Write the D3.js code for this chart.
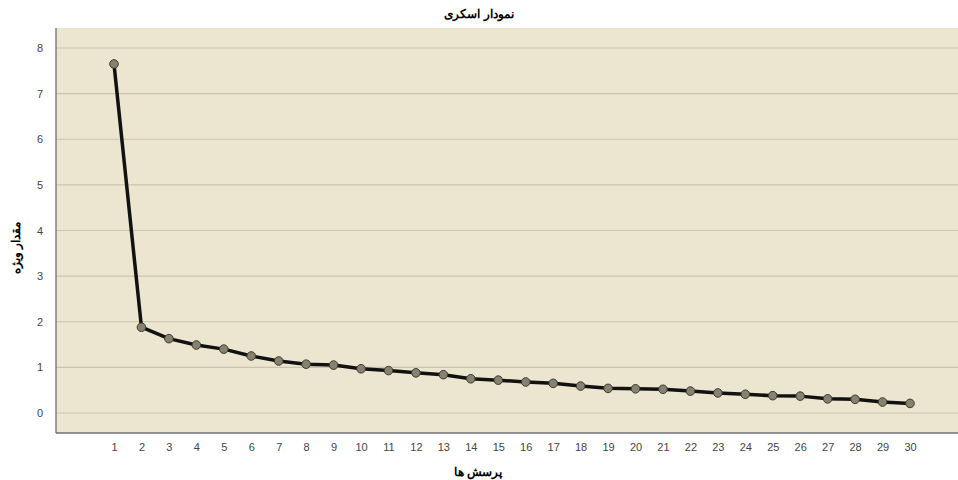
<!DOCTYPE html>
<html><head><meta charset="utf-8">
<script src="https://cdn.jsdelivr.net/npm/d3@7"></script>
<style>body{margin:0;background:#fff}svg{display:block}</style>
</head><body>
<svg id="c" width="958" height="480"></svg>
<script>
const components = d3.range(1, 31);
const eigenvalues = [7.65, 1.88, 1.63, 1.49, 1.40, 1.25, 1.14, 1.07, 1.05, 0.97,
  0.93, 0.88, 0.84, 0.75, 0.72, 0.68, 0.65, 0.59, 0.54, 0.53,
  0.52, 0.48, 0.44, 0.41, 0.38, 0.37, 0.31, 0.30, 0.24, 0.21];
const yTicks = [0, 1, 2, 3, 4, 5, 6, 7, 8];
const title = "نمودار اسکری";
const xTitle = "پرسش ها";
const yTitle = "مقدار ویژه";

const svg = d3.select("#c");
const L = 56, T = 28, R = 958, B = 433;
const x = d3.scaleLinear().domain([1, 30]).range([114, 910]);
const y = d3.scaleLinear().domain([0, 8]).range([413, 48]);

svg.append("rect").attr("x", L).attr("y", T).attr("width", R - L).attr("height", B - T).attr("fill", "#ece5cf");

svg.append("g").selectAll("line").data(yTicks).join("line")
  .attr("x1", L).attr("x2", R).attr("y1", d => y(d)).attr("y2", d => y(d))
  .attr("stroke", "#cbc4aa").attr("stroke-width", 1.2);

svg.append("line").attr("x1", L).attr("x2", L).attr("y1", T).attr("y2", B).attr("stroke", "#707070").attr("stroke-width", 1.3);
svg.append("line").attr("x1", L).attr("x2", R).attr("y1", B).attr("y2", B).attr("stroke", "#707070").attr("stroke-width", 1.3);

const font = "Arial, 'Liberation Sans', sans-serif";
const yAxis = d3.axisLeft(y).tickValues(yTicks).tickSize(0).tickPadding(13).tickFormat(d3.format("d"));
const gy = svg.append("g").attr("transform", `translate(${L},0)`).call(yAxis);
gy.select(".domain").remove();
gy.selectAll("text").attr("font-family", font).attr("font-size", 11).attr("fill", "#444");

const xAxis = d3.axisBottom(x).tickValues(components).tickSize(0).tickPadding(10).tickFormat(d3.format("d"));
const gx = svg.append("g").attr("transform", `translate(0,${B})`).call(xAxis);
gx.select(".domain").remove();
gx.selectAll("text").attr("font-family", font).attr("font-size", 11).attr("fill", "#444");

const data = components.map((c, i) => ({c, v: eigenvalues[i]}));
svg.append("path").datum(data)
  .attr("d", d3.line().x(d => x(d.c)).y(d => y(d.v)))
  .attr("fill", "none").attr("stroke", "#111").attr("stroke-width", 3.5).attr("stroke-linejoin", "round");
svg.append("g").selectAll("circle").data(data).join("circle")
  .attr("cx", d => x(d.c)).attr("cy", d => y(d.v)).attr("r", 4.3)
  .attr("fill", "#878270").attr("stroke", "#3a3a30").attr("stroke-width", 1);

svg.append("text").attr("x", 479).attr("y", 18).attr("text-anchor", "middle")
  .attr("font-family", font).attr("font-size", 12).attr("font-weight", "bold").attr("direction", "rtl").text(title);
svg.append("text").attr("x", 478).attr("y", 476).attr("text-anchor", "middle")
  .attr("font-family", font).attr("font-size", 12).attr("font-weight", "bold").attr("direction", "rtl").text(xTitle);
svg.append("text").attr("transform", "translate(20,248) rotate(-90)").attr("text-anchor", "middle")
  .attr("font-family", font).attr("font-size", 12).attr("font-weight", "bold").attr("direction", "rtl").text(yTitle);
</script>
</body></html>
